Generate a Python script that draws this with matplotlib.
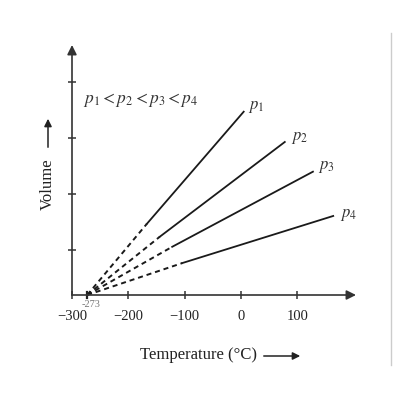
import matplotlib
matplotlib.use("Agg")
import matplotlib.pyplot as plt

plt.rcParams['font.family'] = ['Liberation Serif', 'DejaVu Serif']
plt.rcParams['mathtext.fontset'] = 'stix'

# data (volume in arbitrary units)
series = ['p_1', 'p_2', 'p_3', 'p_4']
abs_zero = -273
solid_start_T = [-167, -144, -122, -104]
solid_start_V = [1.27, 1.04, 0.86, 0.57]
end_T = [5, 78, 128, 164]
end_V = [3.27, 2.73, 2.20, 1.41]
x_ticks = [-300, -200, -100, 0, 100]
x_labels = ['\u2212300', '\u2212200', '\u2212100', '0', '100']
y_ticks = [0.8, 1.8, 2.8, 3.8]
label_pos = [(28, 3.36), (105, 2.80), (151, 2.29), (192, 1.43)]

W, H = 393, 397
fig = plt.figure(figsize=(W / 100, H / 100), dpi=100)
ax = fig.add_axes([72 / W, (H - 295) / H, 284 / W, 250 / H])
ax.set_xlim(-300, 204.5)
ax.set_ylim(0, 4.46)
for s in ax.spines.values():
    s.set_visible(False)

lc = '#1a1a1a'
# axes with arrows
ax.annotate('', xy=(204.5, 0), xytext=(-300, 0),
            arrowprops=dict(arrowstyle='-|>', color='#333333', lw=1.2,
                            mutation_scale=14, shrinkA=0, shrinkB=0),
            annotation_clip=False)
ax.annotate('', xy=(-300, 4.46), xytext=(-300, 0),
            arrowprops=dict(arrowstyle='-|>', color='#333333', lw=1.2,
                            mutation_scale=14, shrinkA=0, shrinkB=0),
            annotation_clip=False)

for name, t0, v0, t1, v1, (lx, ly) in zip(series, solid_start_T, solid_start_V,
                                          end_T, end_V, label_pos):
    ax.plot([abs_zero, t0], [0, v0], color=lc, lw=1.4, linestyle=(0, (2.6, 2.0)),
            clip_on=False)
    ax.plot([t0, t1], [v0, v1], color=lc, lw=1.3, clip_on=False)
    ax.text(lx, ly, '$' + name + '$', fontsize=12, color='#333333',
            ha='center', va='center')

ax.set_xticks(x_ticks)
ax.set_xticklabels(x_labels, fontsize=10.5, color='#222222')
ax.set_yticks(y_ticks)
ax.set_yticklabels([])
ax.tick_params(axis='both', direction='inout', length=6, width=1.1, color='#333333')
ax.tick_params(axis='x', pad=8)
# -273 tick
ax.plot([abs_zero, abs_zero], [-0.06, 0.06], color='#222222', lw=1.6, clip_on=False)
ax.text(-266, -0.17, '-273', fontsize=7.5, color='#777777', ha='center', va='center')

ax.text(-281, 3.48, r'$p_1 < p_2 < p_3 < p_4$', fontsize=12.5, color='#333333',
        ha='left', va='center')

# axis titles with arrows
fig.text(140 / W, 1 - 355 / H, 'Temperature (\u00b0C)', fontsize=12,
         ha='left', va='center', color='#222222')
fig.add_artist(matplotlib.patches.FancyArrowPatch(
    (261 / W, 1 - 356 / H), (303 / W, 1 - 356 / H), transform=fig.transFigure,
    arrowstyle='-|>', mutation_scale=11, color='#222222', lw=1.1))
fig.text(48 / W, 1 - 184 / H, 'Volume', fontsize=12, rotation=90,
         ha='center', va='center', color='#222222')
fig.add_artist(matplotlib.patches.FancyArrowPatch(
    (48 / W, 1 - 150 / H), (48 / W, 1 - 116 / H), transform=fig.transFigure,
    arrowstyle='-|>', mutation_scale=11, color='#222222', lw=1.1))

# thin gray border line on the right
fig.add_artist(matplotlib.lines.Line2D([391 / W, 391 / W], [1 - 33 / H, 1 - 365 / H],
                                       transform=fig.transFigure, color='#cccccc', lw=1))

fig.savefig('out.png', dpi=100)
